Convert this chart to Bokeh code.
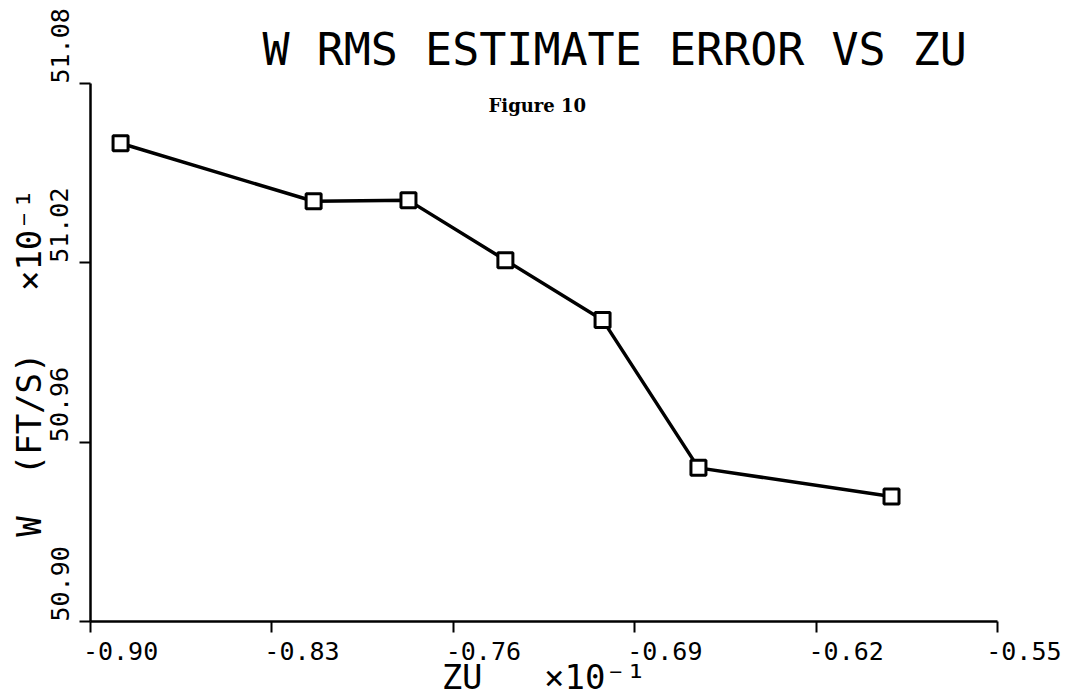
import math
from bokeh.plotting import figure
from bokeh.models import Range1d, FixedTicker, Label
from bokeh.embed import file_html
from bokeh.resources import INLINE

# data
zu = [-0.8884, -0.8139, -0.7773, -0.7399, -0.7024, -0.6654, -0.5909]
w_rms = [51.0600, 51.0406, 51.0409, 51.0209, 51.0009, 50.9514, 50.9418]

x_ticks = [-0.90, -0.83, -0.76, -0.69, -0.62, -0.55]
x_tick_labels = ["-0.90", "-0.83", "-0.76", "-0.69", "-0.62", "-0.55"]
y_ticks = [50.90, 50.96, 51.02, 51.08]
y_tick_labels = ["50.90", "50.96", "51.02", "51.08"]

title_text = "W RMS ESTIMATE ERROR VS ZU"
subtitle_text = "Figure 10"
NB = "\u00a0"
x_label = "ZU" + NB * 3 + "\u00d710\u207b\u00b9"
y_label = "W" + NB * 2 + "(FT/S)" + NB * 3 + "\u00d710\u207b\u00b9" + NB

MONO = "DejaVu Sans Mono"

p = figure(width=1061, height=699, output_backend="svg", toolbar_location=None,
           x_range=Range1d(x_ticks[0], x_ticks[-1]),
           y_range=Range1d(y_ticks[0], y_ticks[-1]),
           min_border_left=90, min_border_right=64,
           min_border_top=83, min_border_bottom=77)

p.background_fill_color = "white"
p.border_fill_color = "white"
p.outline_line_color = None
p.grid.visible = False

p.title.text = title_text
p.title.text_font = MONO
p.title.text_font_size = "45px"
p.title.text_font_style = "normal"
p.title.text_color = "black"
p.title.align = "left"
p.title.offset = 172
p.title.standoff = 15

for ax in (p.xaxis[0], p.yaxis[0]):
    ax.axis_line_width = 2.5
    ax.axis_line_color = "black"
    ax.major_tick_line_width = 2
    ax.major_tick_line_color = "black"
    ax.major_tick_in = 0
    ax.major_tick_out = 11
    ax.minor_tick_line_color = None
    ax.major_label_text_font = MONO
    ax.major_label_text_font_size = "25px"
    ax.major_label_text_color = "black"
    ax.axis_label_text_font = MONO
    ax.axis_label_text_font_size = "34px"
    ax.axis_label_text_font_style = "normal"
    ax.axis_label_text_color = "black"

p.xaxis.ticker = FixedTicker(ticks=x_ticks)
p.yaxis.ticker = FixedTicker(ticks=y_ticks)
# plotter style: labels start at the tick instead of being centred on it
p.xaxis.major_label_overrides = {t: NB * 4 + s for t, s in zip(x_ticks, x_tick_labels)}
p.yaxis.major_label_overrides = {t: NB * 5 + s for t, s in zip(y_ticks, y_tick_labels)}
p.yaxis.major_label_orientation = "vertical"
p.xaxis.major_label_standoff = 4
p.yaxis.major_label_standoff = 5
p.xaxis.axis_label = x_label
p.yaxis.axis_label = y_label
p.xaxis.axis_label_standoff = -12
p.yaxis.axis_label_standoff = -6

p.add_layout(Label(x=-0.7464, y=51.0727, text=subtitle_text,
                   text_font="DejaVu Serif", text_font_style="bold",
                   text_font_size="18px", text_color="black",
                   text_align="left", text_baseline="alphabetic"))

p.line(zu, w_rms, line_color="black", line_width=3.5)
p.scatter(zu, w_rms, marker="square", size=15, line_color="black",
          line_width=3, fill_color="white")

open("out.html", "w").write(file_html(p, INLINE))
